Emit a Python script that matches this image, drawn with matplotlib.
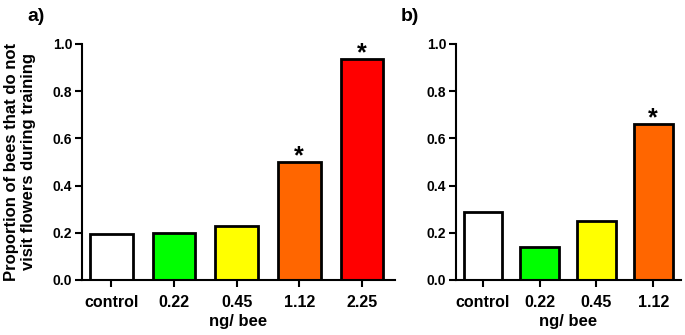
import matplotlib.pyplot as plt

plt.rcParams['font.family'] = ['Liberation Sans', 'DejaVu Sans']
plt.rcParams['font.weight'] = 'bold'

labels_a = ['control', '0.22', '0.45', '1.12', '2.25']
values_a = [0.195, 0.20, 0.23, 0.50, 0.935]
stars_a = [False, False, False, True, True]

labels_b = ['control', '0.22', '0.45', '1.12']
values_b = [0.29, 0.14, 0.25, 0.66]
stars_b = [False, False, False, True]

colors = ['#FFFFFF', '#00FF00', '#FFFF00', '#FF6600', '#FF0000']


def draw_panel(ax, labels, values, stars, xlim):
    x = range(len(labels))
    ax.bar(x, values, width=0.68, color=colors[:len(labels)],
           edgecolor='black', linewidth=2.0)
    for i, v in enumerate(values):
        if stars[i]:
            # star sits just above the bar top
            ax.text(i, v - 0.006, '*', ha='center', va='baseline',
                    fontsize=18, fontweight='bold')
    ax.set_xlim(*xlim)
    ax.set_ylim(0, 1.0)
    ax.set_yticks([0.0, 0.2, 0.4, 0.6, 0.8, 1.0])
    ax.set_yticklabels(['0.0', '0.2', '0.4', '0.6', '0.8', '1.0'])
    ax.set_xticks(list(x))
    ax.set_xticklabels(labels)
    ax.spines['top'].set_visible(False)
    ax.spines['right'].set_visible(False)
    ax.spines['left'].set_linewidth(1.5)
    ax.spines['bottom'].set_linewidth(1.5)
    ax.tick_params(axis='both', direction='out', length=5, width=1.5)
    ax.tick_params(axis='x', labelsize=11.5, pad=6)
    ax.tick_params(axis='y', labelsize=10, pad=2)
    ax.set_xlabel('ng/ bee', fontsize=12, fontweight='bold', labelpad=3)


fig = plt.figure(figsize=(6.85, 3.35), dpi=100)
ax1 = fig.add_axes([0.1197, 0.1642, 0.457, 0.7045])
ax2 = fig.add_axes([0.6657, 0.1642, 0.3285, 0.7045])

draw_panel(ax1, labels_a, values_a, stars_a, (-0.47, 4.53))
draw_panel(ax2, labels_b, values_b, stars_b, (-0.475, 3.49))

ax1.set_ylabel('Proportion of bees that do not\nvisit flowers during training',
               fontsize=12, fontweight='bold', labelpad=12)

fig.text(0.04, 0.975, 'a)', fontsize=14, fontweight='bold', va='top')
fig.text(0.585, 0.975, 'b)', fontsize=14, fontweight='bold', va='top')

fig.savefig('out.png', dpi=100)
